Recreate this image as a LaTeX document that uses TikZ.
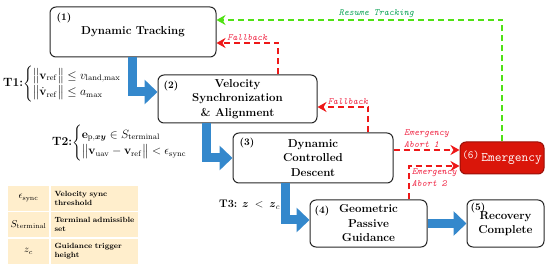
\documentclass[tikz,border=0pt]{standalone}
\usepackage{amsmath, amssymb}
\usepackage{tikz}
\usetikzlibrary{arrows.meta, positioning, calc}
\definecolor{flowblue}{RGB}{52,136,204}
\definecolor{alertred}{RGB}{238,24,24}
\definecolor{labelred}{RGB}{240,40,70}
\definecolor{resumegreen}{RGB}{80,225,20}
\definecolor{resumetext}{RGB}{20,165,90}
\definecolor{emerred}{RGB}{218,22,10}
\definecolor{tablecream}{RGB}{255,238,204}
\tikzset{>=latex}
\tikzset{
  state/.style={draw=black!85, line width=1pt, rounded corners=6pt, align=center,
    font=\fontsize{11.5}{14.5}\selectfont\bfseries, inner sep=0pt},
  tag/.style={anchor=north west, font=\fontsize{10}{12}\selectfont\bfseries, inner sep=0pt},
  flow/.style={flowblue, line width=9pt, -{Triangle[length=13pt,width=24pt]}},
  fallback/.style={alertred, line width=1.6pt, dash pattern=on 6pt off 4pt,
    -{Stealth[length=9pt,width=10pt]}},
  resume/.style={resumegreen, line width=1.6pt, dash pattern=on 6pt off 4pt,
    -{Stealth[length=9pt,width=10pt]}},
  edgetext/.style={font=\fontsize{9.5}{12.5}\selectfont\ttfamily\itshape, align=left, inner sep=1.5pt},
  cond/.style={anchor=west, inner sep=0pt, font=\fontsize{12}{14}\selectfont},
  symcell/.style={fill=tablecream, draw=white, line width=1.5pt, minimum width=43pt,
    minimum height=26.5pt, inner sep=0pt, font=\fontsize{10}{12}\selectfont},
  desccell/.style={fill=tablecream, draw=white, line width=1.5pt, text width=80pt,
    minimum height=26.5pt, inner xsep=4.5pt, inner ysep=0pt, align=left,
    font=\fontsize{7.5}{9}\selectfont\bfseries},
}

\begin{document}
\begin{tikzpicture}[x=1pt, y=-1pt]
  \useasboundingbox (0,0) rectangle (550,270);
  % mode boxes
  \node[state, minimum width=166pt, minimum height=50pt] (track) at (133,32) {Dynamic Tracking};
  \node[state, minimum width=159pt, minimum height=48pt] (sync) at (237.5,99) {Velocity\\Synchronization\\\& Alignment};
  \node[state, minimum width=160pt, minimum height=50pt] (descent) at (313,158) {Dynamic\\Controlled\\Descent};
  \node[state, minimum width=117pt, minimum height=47pt] (guide) at (368.5,223.5) {Geometric\\Passive\\Guidance};
  \node[state, minimum width=77pt, minimum height=47pt] (done) at (505.5,223.5) {Recovery\\Complete};
  \node[state, fill=emerred, draw=emerred!70!black, text=white, minimum width=84pt, minimum height=32pt,
    font=\fontsize{13}{15}\selectfont\ttfamily] (emerg) at (502,158) {\raisebox{3pt}{\fontsize{11}{12}\selectfont(6)}\,Emergency};
  % numbers
  \node[tag] (n1) at ([shift={(7pt,-6pt)}]track.north west) {(1)};
  \node[tag] (n2) at ([shift={(6pt,-6pt)}]sync.north west) {(2)};
  \node[tag] (n3) at ([shift={(7pt,-5pt)}]descent.north west) {(3)};
  \node[tag] (n4) at ([shift={(5pt,-6pt)}]guide.north west) {(4)};
  \node[tag] (n5) at ([shift={(4pt,-3pt)}]done.north west) {(5)};
  % nominal sequence
  \draw[flow] ([xshift=-1pt]track.south) |- ([yshift=7pt]sync.west);
  \draw[flow] ([xshift=-31.5pt]sync.south) |- (descent.west);
  \draw[flow] ([xshift=-28pt]descent.south) |- ([yshift=3.5pt]guide.west);
  \draw[flow] (guide.east) -- (done.west);
  % fallback and abort
  \draw[fallback] ([xshift=40.5pt]sync.north) |- node[pos=0.75, above, edgetext, text=labelred] {Fallback} ([yshift=-11pt]track.east);
  \draw[fallback] ([xshift=55pt]descent.north) |- node[pos=0.7, above, edgetext, text=labelred] {Fallback} ([yshift=-8pt]sync.east);
  \draw[fallback] ([yshift=8pt]descent.east) -- node[above, edgetext, text=labelred] {Emergency\\Abort 1} ([yshift=8pt]emerg.west);
  \draw[fallback] ([xshift=40.5pt]guide.north) |- node[pos=0.75, below, edgetext, text=labelred] {Emergency\\Abort 2} ([yshift=-8pt]emerg.west);
  \draw[resume] (emerg.north) |- node[pos=0.72, above, edgetext, text=resumetext] {Resume Tracking} ([yshift=12pt]track.east);
  % transition conditions
  \node[cond] (t1) at (3,84) {\textbf{T1:}$\left\{\renewcommand{\arraystretch}{1.15}\begin{array}{@{}l@{}}
      \big\|\mathbf{v}_{\mathrm{ref}}\big\| \le v_{\mathrm{land,max}}\\
      \big\|\dot{\mathbf{v}}_{\mathrm{ref}}\big\| \le a_{\max}\end{array}\right.$};
  \node[cond] (t2) at (52,143) {\textbf{T2:}$\left\{\renewcommand{\arraystretch}{1.15}\begin{array}{@{}l@{}}
      \mathbf{e}_{\mathrm{p},\boldsymbol{xy}} \in S_{\mathrm{terminal}}\\
      \big\|\mathbf{v}_{\mathrm{uav}} - \mathbf{v}_{\mathrm{ref}}\big\| < \epsilon_{\mathrm{sync}}\end{array}\right.$};
  \node[cond, font=\fontsize{11}{13}\selectfont] (t3) at (219,205) {\textbf{T3:} $\boldsymbol{z}\;<\;\boldsymbol{z}_c$};
  % legend
  \foreach \sym/\desc [count=\i from 0] in {%
      {$\epsilon_{\mathrm{sync}}$}/{Velocity sync\\threshold},%
      {$S_{\mathrm{terminal}}$}/{Terminal admissible\\set},%
      {$z_c$}/{Guidance trigger\\height}}{
    \node[symcell] (sym\i) at (28.5,198.25+26.5*\i) {\sym};
    \node[desccell] (desc\i) at (94.5,198.25+26.5*\i) {\desc};
  }
\end{tikzpicture}
\end{document}
